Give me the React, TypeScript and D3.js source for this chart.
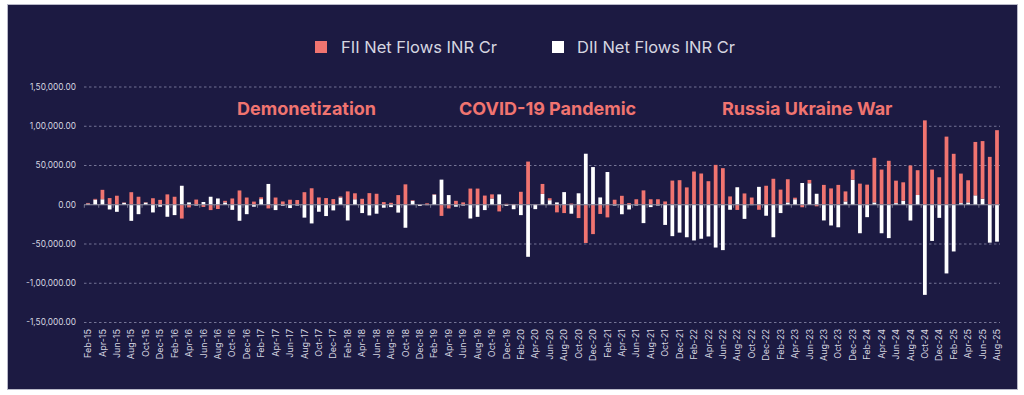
import * as d3 from 'd3';
import React from 'react';

// months Feb-15 .. Aug-25
const months = d3.timeMonths(new Date(2015, 1, 1), new Date(2025, 8, 1));
const monthLabels = months.map((m) => d3.timeFormat('%b-%y')(m));

// red series (legend: FII), INR Cr
const fiiFlows = [
  800, 1000, 12000, 8500, 11500, 500, 16000, 10200, 500, 8300, 6200, 13200, 10200,
  -17600, -3400, 6600, -2800, -6800, -5400, 2000, 8000, 18200, 9200, 4000, 2300,
  -4700, 9200, 4200, 6400, 6000, 16000, 21000, 9300, 8500, 7200, 1200, 17000,
  7600, 7600, 14800, 14000, 3400, 2500, 12300, 26000, 800, 500, 1800, 500,
  -14200, -4700, 5000, 3000, 20600, 20600, 11700, 5200, -8500, 1200, 1000, 16500,
  55000, 500, 12700, 2500, -9700, -10600, 1500, -17000, -48700, -37400, -11700, -16100,
  6400, 11400, 2100, 7000, 18300, 7000, 7000, 4200, 30800, 31300, 22100, 42300,
  39800, 30000, 50800, 46600, 10600, -6600, 14400, 9200, -6400, 24200, 33100, 19300,
  29500, 2000, -3200, 4200, -2000, 25300, 20800, 25300, 12800, 12800, 26900, 25600,
  56800, 44800, 56000, 28600, 23500, 50000, 31600, 107500, 44800, 35000, 86800, 64900,
  37600, 28200, 68000, 73400, 61000, 95000,
];

// white series (legend: DII), INR Cr
const diiFlows = [
  1500, 6500, 7000, -6000, -9000, 2500, -20500, -12000, 2800, -9800, -2500, -15300, -13200,
  24200, 3000, -1000, 3500, 10200, 8000, 3000, -6500, -20400, -12000, -2500, 7200,
  26500, -6800, -1200, -4200, -1000, -16400, -23800, -8900, -14400, -7200, 9300, -20000,
  7000, -10600, -13600, -11400, -3800, -3000, -10000, -29300, 5000, -1500, -500, 13000,
  32000, 12300, -2500, -1000, -17500, -15400, -6800, 8000, 13200, -1500, -5700, -13200,
  -66300, -5600, 13800, 5800, 3000, 16100, -11400, 14600, 65000, 48000, 9300, 41700,
  -1000, -12100, -6000, -1000, -23400, -3000, -1000, -25700, -40000, -35500, -41400, -45500,
  -43300, -40400, -54500, -57800, -6400, 22300, -18000, -500, 22800, -14000, -41400, -10600,
  3000, 7000, 27700, 27400, 14000, -20000, -26400, -28700, 4200, 31900, -36300, -15800,
  3000, -36300, -42500, 2100, 5100, -20100, 12400, -114800, -46100, -16700, -87500, -59500,
  2100, 3000, 12000, 7700, -48300, -47000,
];

const yTicks = [150000, 100000, 50000, 0, -50000, -100000, -150000];
const events = ['Demonetization', 'COVID-19 Pandemic', 'Russia Ukraine War'];
const eventX = [237, 459, 722];

const RED = '#F07470';
const TXT = '#d6d6e0';
const FONT = 'Inter, "Noto Sans", sans-serif';

const indianFormat = (v: number) => {
  const neg = v < 0;
  const s = Math.abs(v).toFixed(0);
  let out = s;
  if (s.length > 3) {
    const last3 = s.slice(-3);
    const rest = s.slice(0, -3).replace(/\B(?=(\d{2})+(?!\d))/g, ',');
    out = rest + ',' + last3;
  }
  return (neg ? '-' : '') + out + '.00';
};

export default function App() {
  const rows = monthLabels.map((m, i) => ({ month: m, fii: fiiFlows[i], dii: diiFlows[i] }));
  const stack = d3.stack<any>().keys(['dii', 'fii']).offset(d3.stackOffsetDiverging);
  const series = stack(rows);

  const x = d3.scaleBand<string>().domain(monthLabels).range([84.4, 1000.6]).paddingInner(0.48).paddingOuter(0.24);
  const y = d3.scaleLinear().domain([-150000, 150000]).range([322.5, 87]);
  const colors: Record<string, string> = { fii: RED, dii: '#ffffff' };

  return (
    <div style={{ position: 'absolute', left: 0, top: 0 }}>
      <svg width={1024} height={395} style={{ display: 'block', fontFamily: FONT }}>
        <rect width={1024} height={395} fill="#ffffff" />
        <rect x={7.5} y={4.5} width={1010} height={385} fill="#1c1a42" stroke="#b8b8c8" strokeWidth={1} />

        {/* legend */}
        <rect x={315} y={41} width={12} height={12} fill={RED} />
        <text x={341} y={47} dy="0.35em" fontSize={16.5} fill={TXT}>FII Net Flows INR Cr</text>
        <rect x={552} y={41} width={12} height={12} fill="#ffffff" />
        <text x={577} y={47} dy="0.35em" fontSize={16.5} fill={TXT}>DII Net Flows INR Cr</text>

        {/* gridlines + y labels */}
        {yTicks.map((t) => (
          <g key={t}>
            {t !== 0 && (
              <line x1={84} x2={1000} y1={y(t)} y2={y(t)} stroke="#8c8cab" strokeWidth={0.8} strokeDasharray="2.5,2.5" />
            )}
            <text x={76} y={y(t)} dy="0.35em" textAnchor="end" fontSize={8.3} fill={TXT}>
              {indianFormat(t)}
            </text>
          </g>
        ))}

        {/* event annotations */}
        {events.map((e, i) => (
          <text key={e} x={eventX[i]} y={115} fontSize={18} fontWeight={700} fill={RED}>
            {e}
          </text>
        ))}

        {/* bars */}
        {series.map((s) => (
          <g key={s.key} fill={colors[s.key]}>
            {s.map((d, i) => {
              const y0 = y(d[0]);
              const y1 = y(d[1]);
              return (
                <rect
                  key={i}
                  x={x(monthLabels[i])}
                  y={Math.min(y0, y1)}
                  width={x.bandwidth()}
                  height={Math.abs(y0 - y1)}
                />
              );
            })}
          </g>
        ))}

        {/* zero axis */}
        <line x1={84} x2={1000} y1={y(0)} y2={y(0)} stroke="#8c8ca0" strokeWidth={1} />
        {monthLabels.map((m, i) =>
          i % 2 === 0 ? (
            <line key={m} x1={x(m)! - x.step() / 4} x2={x(m)! - x.step() / 4} y1={y(0)} y2={y(0) + 3} stroke="#8c8ca0" strokeWidth={0.8} />
          ) : null
        )}

        {/* x labels */}
        {monthLabels.map((m, i) =>
          i % 2 === 0 ? (
            <text
              key={m}
              transform={`translate(${x(m)! + x.bandwidth() / 2},329) rotate(-90)`}
              textAnchor="end"
              dy="0.35em"
              fontSize={9}
              fill={TXT}
            >
              {m}
            </text>
          ) : null
        )}
      </svg>
    </div>
  );
}
